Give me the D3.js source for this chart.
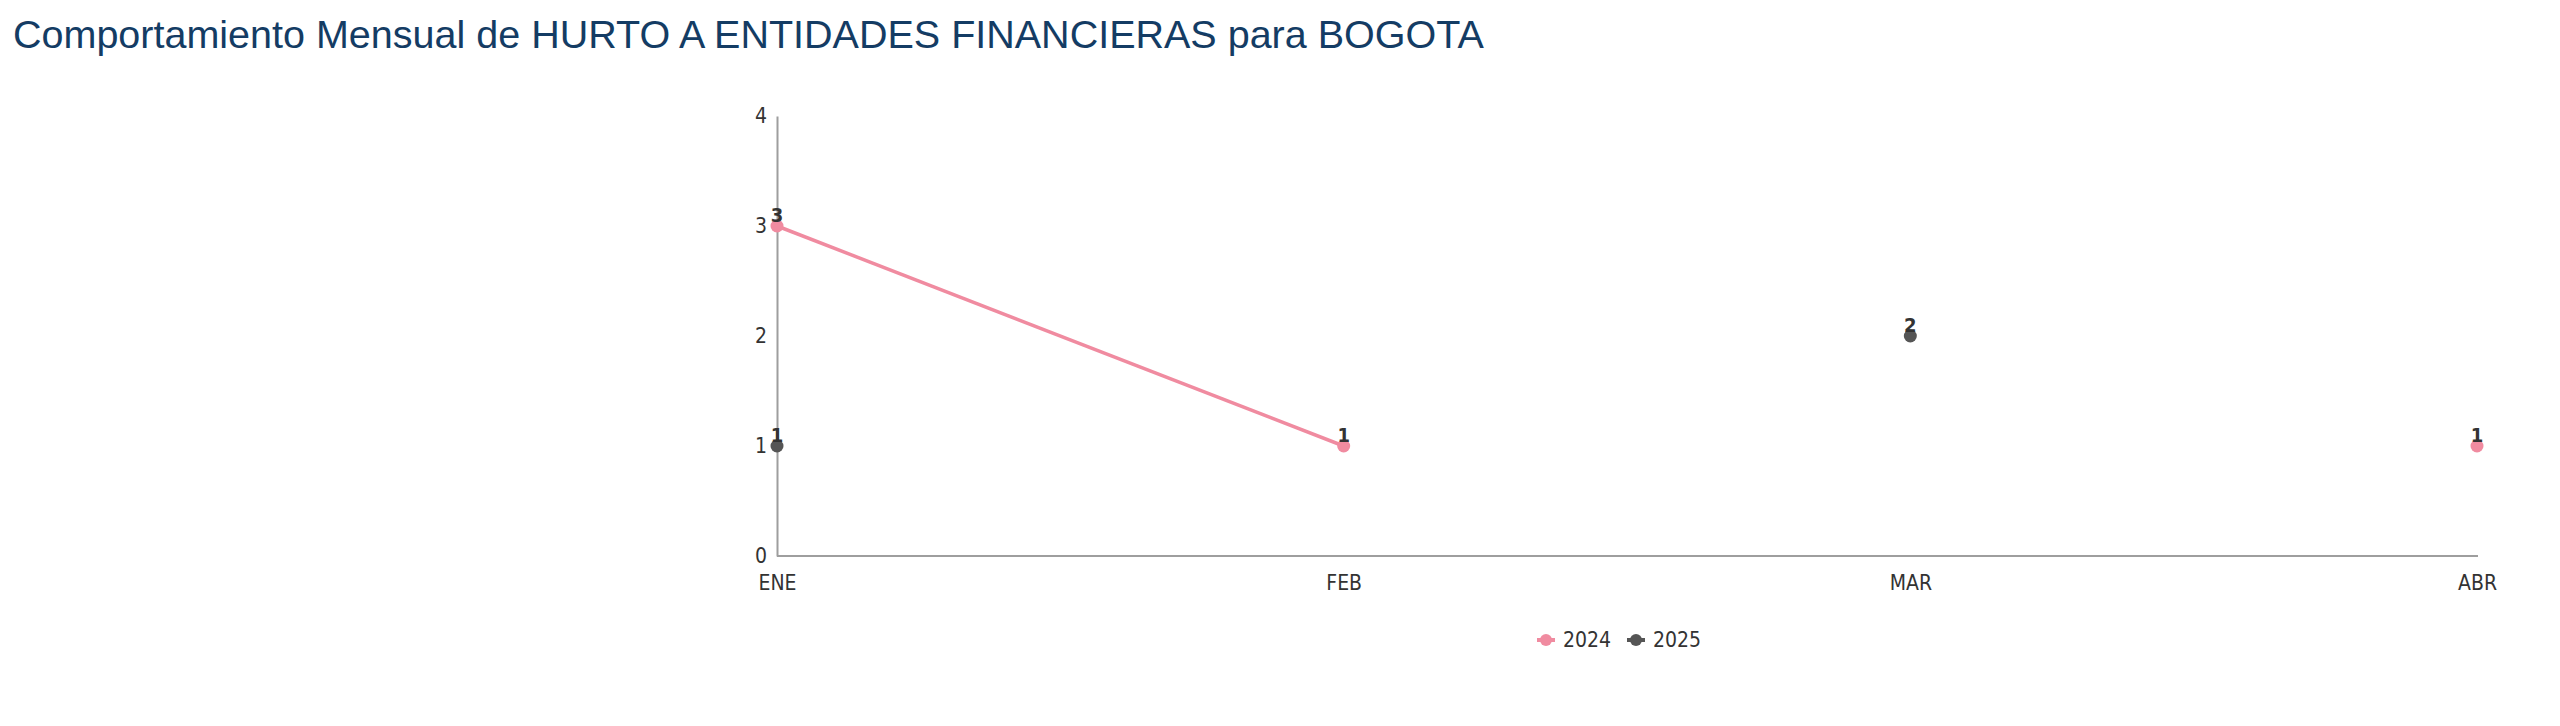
<!DOCTYPE html>
<html>
<head>
<meta charset="utf-8">
<script src="https://cdn.jsdelivr.net/npm/d3@7/dist/d3.min.js"></script>
<style>
  html, body { margin: 0; padding: 0; background: #fff; }
  svg { display: block; }
</style>
</head>
<body>
<svg id="chart" width="2560" height="726"></svg>
<script>
const title = "Comportamiento Mensual de HURTO A ENTIDADES FINANCIERAS para BOGOTA";
const months = ["ENE", "FEB", "MAR", "ABR"];
const series2024 = [3, 1, null, 1];
const series2025 = [1, null, 2, null];
const seriesNames = ["2024", "2025"];
const seriesColors = ["#f08ba0", "#555555"];
const yTicks = [0, 1, 2, 3, 4];

const svg = d3.select("#chart");

svg.append("text")
  .attr("x", 13).attr("y", 48)
  .attr("font-family", "'Liberation Sans', Arial, sans-serif")
  .attr("font-size", 39.5)
  .attr("fill", "#143c64")
  .text(title);

const x = d3.scalePoint().domain(months).range([777, 2477]);
const y = d3.scaleLinear().domain([0, 4]).range([556, 116]);

const font = "'DejaVu Sans Condensed', 'DejaVu Sans', sans-serif";

const yAxis = svg.append("g")
  .attr("transform", `translate(${x.range()[0]},0)`)
  .call(d3.axisLeft(y).tickValues(yTicks).tickSize(0).tickSizeOuter(0).tickPadding(10).tickFormat(d3.format("d")));
yAxis.select(".domain").attr("stroke", "#9e9e9e").attr("stroke-width", 2);
yAxis.selectAll("text").attr("font-family", font).attr("font-size", 21).attr("fill", "#333");

const xAxis = svg.append("g")
  .attr("transform", `translate(0,${y(0)})`)
  .call(d3.axisBottom(x).tickSize(0).tickSizeOuter(0).tickPadding(19));
xAxis.select(".domain").attr("stroke", "#9e9e9e").attr("stroke-width", 2)
  .attr("d", `M${x.range()[0]},0H${x.range()[1] + 1}`);
xAxis.selectAll("text").attr("font-family", font).attr("font-size", 21).attr("fill", "#333");

const allSeries = [series2024, series2025];

allSeries.forEach((vals, si) => {
  const pts = months.map((m, i) => ({ m, v: vals[i] }));
  const line = d3.line()
    .defined(d => d.v !== null)
    .x(d => x(d.m)).y(d => y(d.v));
  svg.append("path")
    .datum(pts)
    .attr("fill", "none")
    .attr("stroke", seriesColors[si])
    .attr("stroke-width", 3.5)
    .attr("d", line);
  const valid = pts.filter(d => d.v !== null);
  svg.append("g").selectAll("circle").data(valid).join("circle")
    .attr("cx", d => x(d.m)).attr("cy", d => y(d.v)).attr("r", 6.5)
    .attr("fill", seriesColors[si]);
  svg.append("g").selectAll("text").data(valid).join("text")
    .attr("x", d => x(d.m)).attr("y", d => y(d.v) - 4)
    .attr("text-anchor", "middle")
    .attr("font-family", font).attr("font-size", 20).attr("font-weight", "bold")
    .attr("fill", "#333")
    .text(d => d.v);
});

// legend
const legendX = [1546, 1636];
const legend = svg.append("g");
seriesNames.forEach((name, i) => {
  const g = legend.append("g").attr("transform", `translate(${legendX[i]},640)`);
  g.append("line").attr("x1", -9).attr("x2", 9).attr("stroke", seriesColors[i]).attr("stroke-width", 4);
  g.append("circle").attr("r", 6).attr("fill", seriesColors[i]);
  g.append("text").attr("x", 17).attr("y", 0).attr("dy", "0.35em")
    .attr("font-family", font).attr("font-size", 21).attr("fill", "#333")
    .text(name);
});
</script>
</body>
</html>
